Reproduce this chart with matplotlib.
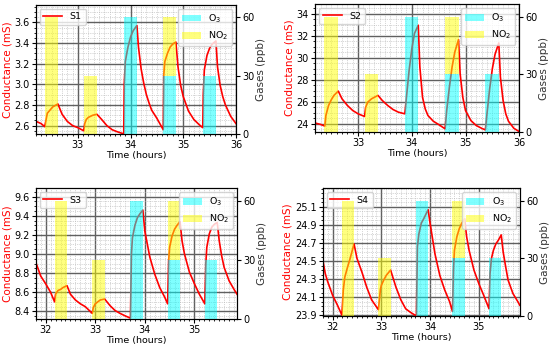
import numpy as np
import matplotlib
matplotlib.use("Agg")
import matplotlib.pyplot as plt
from matplotlib.ticker import MultipleLocator, AutoMinorLocator, FormatStrFormatter

# ---- sensor curves (time in hours, conductance in mS) ----
t_s1 = [32.21, 32.30, 32.37, 32.42, 32.47, 32.52, 32.57, 32.62, 32.70, 32.80, 32.90, 33.00, 33.11,
        33.13, 33.16, 33.20, 33.28, 33.36, 33.45, 33.55, 33.65, 33.75, 33.87,
        33.88, 33.90, 33.95, 34.00, 34.05, 34.12, 34.15, 34.20, 34.25, 34.30, 34.35, 34.40, 34.50, 34.62,
        34.63, 34.65, 34.70, 34.75, 34.80, 34.86, 34.90, 34.95, 35.00, 35.10, 35.20, 35.30, 35.37,
        35.38, 35.40, 35.45, 35.50, 35.55, 35.62, 35.65, 35.70, 35.75, 35.80, 35.90, 36.00]
g_s1 = [2.64, 2.62, 2.59, 2.72, 2.75, 2.78, 2.795, 2.81, 2.71, 2.64, 2.60, 2.58, 2.55,
        2.62, 2.66, 2.68, 2.70, 2.71, 2.66, 2.60, 2.56, 2.54, 2.52,
        3.01, 3.22, 3.36, 3.46, 3.52, 3.57, 3.36, 3.15, 3.01, 2.90, 2.82, 2.75, 2.67, 2.56,
        3.09, 3.22, 3.30, 3.36, 3.39, 3.41, 3.17, 2.99, 2.88, 2.74, 2.66, 2.61, 2.58,
        2.91, 3.14, 3.28, 3.35, 3.39, 3.42, 3.17, 2.99, 2.88, 2.80, 2.69, 2.62]

t_s2 = [32.21, 32.30, 32.38, 32.40, 32.45, 32.50, 32.55, 32.63, 32.70, 32.80, 32.90, 33.00, 33.12,
        33.14, 33.18, 33.25, 33.37, 33.45, 33.55, 33.65, 33.75, 33.87,
        33.90, 33.95, 34.00, 34.05, 34.12, 34.15, 34.20, 34.25, 34.30, 34.40, 34.50, 34.62,
        34.65, 34.70, 34.75, 34.80, 34.87, 34.90, 34.95, 35.00, 35.10, 35.20, 35.30, 35.37,
        35.40, 35.45, 35.50, 35.55, 35.62, 35.65, 35.70, 35.75, 35.80, 35.90, 36.00]
g_s2 = [24.06, 23.95, 23.80, 24.76, 25.67, 26.18, 26.58, 26.97, 26.27, 25.67, 25.21, 24.91, 24.67,
        25.50, 25.97, 26.27, 26.58, 26.12, 25.67, 25.30, 25.06, 24.91,
        26.40, 28.85, 30.80, 32.20, 32.94, 29.15, 26.40, 25.36, 24.76, 24.24, 23.94, 23.55,
        25.21, 27.33, 29.15, 30.50, 31.64, 28.55, 26.40, 25.21, 24.30, 23.85, 23.60, 23.45,
        24.90, 27.18, 29.00, 30.30, 31.33, 28.24, 26.12, 24.91, 24.24, 23.60, 23.30]

t_s3 = [31.79, 31.90, 32.00, 32.10, 32.18, 32.20, 32.25, 32.30, 32.35, 32.43,
        32.50, 32.60, 32.70, 32.80, 32.94, 32.96, 33.00, 33.05, 33.10, 33.19,
        33.30, 33.40, 33.50, 33.60, 33.71, 33.73, 33.75, 33.80, 33.85, 33.90, 33.96,
        34.00, 34.10, 34.20, 34.30, 34.40, 34.46, 34.48, 34.50, 34.55, 34.60, 34.65, 34.71,
        34.75, 34.80, 34.90, 35.00, 35.10, 35.21, 35.23, 35.25, 35.30, 35.35, 35.40, 35.46,
        35.50, 35.55, 35.60, 35.70, 35.80, 35.86]
g_s3 = [8.93, 8.77, 8.69, 8.60, 8.50, 8.58, 8.62, 8.63, 8.65, 8.67,
        8.58, 8.52, 8.48, 8.45, 8.38, 8.44, 8.48, 8.50, 8.52, 8.53,
        8.46, 8.41, 8.38, 8.355, 8.33, 9.00, 9.17, 9.30, 9.38, 9.42, 9.46,
        9.24, 8.97, 8.79, 8.65, 8.55, 8.48, 8.93, 9.07, 9.19, 9.26, 9.30, 9.34,
        9.14, 9.00, 8.81, 8.69, 8.58, 8.48, 8.90, 9.07, 9.21, 9.28, 9.31, 9.33,
        9.14, 8.98, 8.86, 8.72, 8.63, 8.58]

t_s4 = [31.80, 31.85, 31.90, 32.00, 32.10, 32.19, 32.22, 32.25, 32.30, 32.35, 32.44,
        32.50, 32.60, 32.70, 32.80, 32.94, 32.98, 33.00, 33.05, 33.10, 33.19,
        33.30, 33.40, 33.50, 33.60, 33.72, 33.74, 33.77, 33.82, 33.87, 33.96,
        34.00, 34.10, 34.20, 34.30, 34.40, 34.46, 34.48, 34.50, 34.55, 34.60, 34.65, 34.71,
        34.75, 34.80, 34.90, 35.00, 35.10, 35.21, 35.23, 35.26, 35.30, 35.35, 35.40, 35.46,
        35.50, 35.55, 35.60, 35.70, 35.80, 35.84]
g_s4 = [24.51, 24.36, 24.27, 24.12, 24.01, 23.90, 24.18, 24.32, 24.42, 24.51, 24.69,
        24.53, 24.38, 24.21, 24.07, 23.96, 24.18, 24.23, 24.29, 24.34, 24.40,
        24.21, 24.07, 23.97, 23.93, 23.89, 24.66, 24.80, 24.92, 24.97, 25.07,
        24.92, 24.58, 24.34, 24.18, 24.05, 23.94, 24.40, 24.62, 24.77, 24.86, 24.92, 24.97,
        24.77, 24.62, 24.40, 24.25, 24.12, 23.97, 24.36, 24.53, 24.62, 24.69, 24.73, 24.79,
        24.60, 24.44, 24.29, 24.14, 24.05, 24.01]

# ---- gas pulses (start time, ppb), each pulse lasts 0.25 h ----
pulse_top = [32.37, 33.12, 33.87, 34.62, 35.37]     # S1, S2
pulse_bottom = [32.19, 32.94, 33.71, 34.46, 35.21]  # S3, S4
o3_ppb = [0, 0, 60, 30, 30]
no2_ppb = [60, 30, 0, 30, 0]
pulse_width = 0.25

panels = [
    ("S1", t_s1, g_s1, pulse_top, (32.2, 36.0), (2.52, 3.77), [2.6, 2.8, 3.0, 3.2, 3.4, 3.6], "%.1f",
     [0.065, 0.612, 0.364, 0.374]),
    ("S2", t_s2, g_s2, pulse_top, (32.2, 36.0), (23.25, 34.85), [24, 26, 28, 30, 32, 34], "%d",
     [0.573, 0.617, 0.371, 0.371]),
    ("S3", t_s3, g_s3, pulse_bottom, (31.8, 35.86), (8.32, 9.69), [8.4, 8.6, 8.8, 9.0, 9.2, 9.4, 9.6], "%.1f",
     [0.065, 0.075, 0.366, 0.38]),
    ("S4", t_s4, g_s4, pulse_bottom, (31.8, 35.84), (23.89, 25.31), [23.9, 24.1, 24.3, 24.5, 24.7, 24.9, 25.1], "%.1f",
     [0.587, 0.084, 0.358, 0.371]),
]

fig = plt.figure(figsize=(5.5, 3.45), dpi=100)

for name, t, g, starts, xlim, ylim, yticks, yfmt, rect in panels:
    ax = fig.add_axes(rect)
    ax.plot(t, g, color="red", lw=1.2, label=name)
    ax.set_xlim(*xlim)
    ax.set_ylim(*ylim)
    ax.set_yticks(yticks)
    ax.yaxis.set_major_formatter(FormatStrFormatter(yfmt))
    ax.xaxis.set_major_locator(MultipleLocator(1))
    ax.xaxis.set_minor_locator(MultipleLocator(0.1))
    ax.yaxis.set_minor_locator(AutoMinorLocator(4))
    ax.grid(which="minor", color="#b0b0b0", lw=0.5, ls=":")
    ax.grid(which="major", color="#606060", lw=1.0)
    ax.tick_params(labelsize=7, length=3, pad=1.5)
    ax.tick_params(which="minor", length=1.5)
    ax.set_xlabel("Time (hours)", fontsize=6.8, labelpad=0.5)
    ax.set_ylabel("Conductance (mS)", color="red", fontsize=7.5, labelpad=1.5)
    ax.legend(loc="upper left", fontsize=6.8, handlelength=2.0, borderpad=0.4,
              borderaxespad=0.4)

    # gas pulses on a twin axis, drawn over the curve
    ax2 = ax.twinx()
    ax2.bar(starts, o3_ppb, width=pulse_width, align="edge", color="cyan", alpha=0.5,
            label="O$_3$")
    ax2.bar(starts, no2_ppb, width=pulse_width, bottom=o3_ppb, align="edge", color="yellow",
            alpha=0.5, label="NO$_2$")
    ax2.set_ylim(0, 66.5)
    ax2.set_yticks([0, 30, 60])
    ax2.tick_params(labelsize=7, length=3, pad=1.5)
    ax2.set_ylabel("Gases (ppb)", color="#333333", fontsize=7.5, labelpad=1)
    ax2.legend(loc="upper right", fontsize=6.8, handlelength=2.0, borderpad=0.4,
               borderaxespad=0.4)

fig.savefig("out.png", dpi=100)
